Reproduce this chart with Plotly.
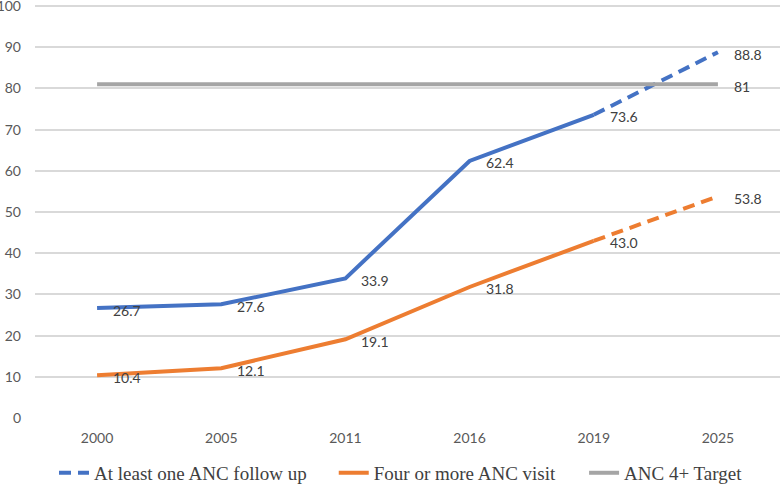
import plotly.graph_objects as go

years = ["2000", "2005", "2011", "2016", "2019", "2025"]
anc1 = [26.7, 27.6, 33.9, 62.4, 73.6, 88.8]
anc4 = [10.4, 12.1, 19.1, 31.8, 43.0, 53.8]
target = [81, 81, 81, 81, 81, 81]
y_ticks = [0, 10, 20, 30, 40, 50, 60, 70, 80, 90, 100]

BLUE = "#4472C4"
ORANGE = "#ED7D31"
GRAY = "#A5A5A5"
LW = 4
DASH = "12px,7px"

fig = go.Figure()
fig.add_trace(go.Scatter(x=years[:5], y=anc1[:5], mode="lines",
                         line=dict(color=BLUE, width=LW), showlegend=False,
                         hoverinfo="skip"))
fig.add_trace(go.Scatter(x=years[4:], y=anc1[4:], mode="lines",
                         line=dict(color=BLUE, width=LW, dash=DASH),
                         name="At least one ANC follow up", legend="legend"))
fig.add_trace(go.Scatter(x=years[:5], y=anc4[:5], mode="lines",
                         line=dict(color=ORANGE, width=LW),
                         name="Four or more ANC visit", legend="legend2"))
fig.add_trace(go.Scatter(x=years[4:], y=anc4[4:], mode="lines",
                         line=dict(color=ORANGE, width=LW, dash=DASH),
                         showlegend=False))
fig.add_trace(go.Scatter(x=years, y=target, mode="lines",
                         line=dict(color=GRAY, width=4),
                         name="ANC 4+ Target", legend="legend3"))

label_font = dict(family="Lato, 'Liberation Sans', sans-serif", size=14, color="#404040")
annotations = []
for series in (anc1, anc4):
    for i, v in enumerate(series):
        annotations.append(dict(x=i, y=v, xref="x", yref="y", text=f"{v:.1f}",
                                showarrow=False, xanchor="left", yanchor="middle",
                                xshift=14, yshift=-2, font=label_font))
annotations.append(dict(x=len(years) - 1, y=target[-1], xref="x", yref="y",
                        text=f"{target[-1]:g}", showarrow=False, xanchor="left",
                        yanchor="middle", xshift=14, yshift=-2, font=label_font))

legend_font = dict(family="'Liberation Serif', 'Times New Roman', serif",
                   size=19, color="#404040")


def leg(x):
    return dict(orientation="h", x=x, xanchor="left", y=-0.133, yanchor="middle",
                font=legend_font, bgcolor="rgba(0,0,0,0)")


fig.update_layout(
    width=780, height=484,
    margin=dict(l=35, r=0, t=5, b=66, autoexpand=False),
    plot_bgcolor="white", paper_bgcolor="white",
    annotations=annotations,
    showlegend=True,
    legend=leg(0.0255),
    legend2=leg(0.401),
    legend3=leg(0.737),
    xaxis=dict(type="category", range=[-0.5, 5.5], autorange=False,
               showgrid=False, zeroline=False, showline=False,
               ticks="", tickfont=dict(family="Lato, 'Liberation Sans', sans-serif",
                                       size=14, color="#595959"),
               ticklabelstandoff=10, automargin=False, ticklabeloverflow="allow"),
    yaxis=dict(range=[0, 100.25], autorange=False, tickvals=y_ticks, showgrid=True,
               gridcolor="#D9D9D9", gridwidth=1.5, zeroline=False, showline=False,
               ticks="", tickfont=dict(family="Lato, 'Liberation Sans', sans-serif",
                                       size=14, color="#595959"),
               ticklabelstandoff=13, automargin=False, ticklabeloverflow="allow"),
)

fig.write_html("out.html", config={"displayModeBar": False},
               post_script="document.body.style.margin='0';document.body.style.padding='0';")
